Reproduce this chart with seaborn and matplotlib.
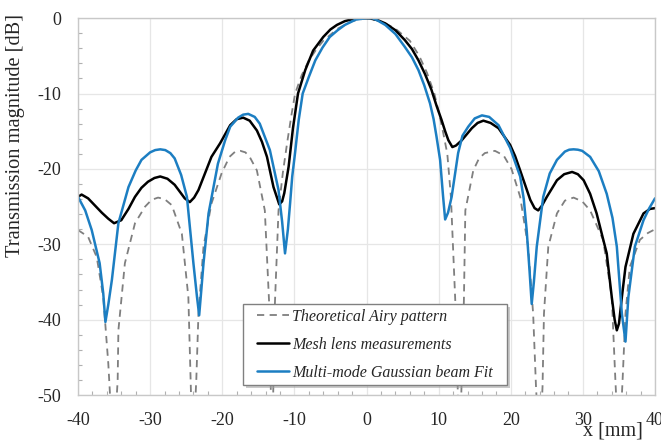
import matplotlib
matplotlib.use("Agg")
import matplotlib.pyplot as plt
from matplotlib.patches import Rectangle
from matplotlib.transforms import offset_copy
from matplotlib.ticker import MultipleLocator
import seaborn as sns

# Theoretical Airy pattern (dashed); nulls drop below -50
airy_x = [-40, -38.6, -37.4, -36.5, -35.8, -35.1, -34.5, -34.4, -33.5, -32.1, -30.7,
          -29.8, -28.9, -28.0, -27.0, -25.6, -24.7, -24.1, -23.6, -23.3, -22.6, -21.5,
          -20.1, -19.0, -18.2, -17.5, -16.8, -16.2, -15.2, -14.1, -13.5, -13.1, -12.7,
          -12.2, -11.6, -11.0, -10.4, -9.9, -9.0, -8.0, -7.0, -6.0, -4.0, -2.0, 0,
          2.0, 4.0, 6.0, 7.3, 8.4, 9.4, 10.1, 10.65, 11.2, 11.7, 12.3, 12.9, 13.5, 13.7,
          14.8, 15.6, 16.4, 17.8, 19.0, 20.1, 21.3, 22.4, 23.1, 23.5, 24.0, 24.4, 24.6,
          25.2, 26.4, 27.5, 28.7, 29.9, 31.0, 32.8, 34.0, 34.5, 35.0, 35.5, 35.9, 36.5,
          37.9, 39.0, 40]
airy_db = [-28.1, -29.0, -31.7, -37.0, -45.8, -58, -48.0, -41.4, -32.5, -27.2, -25.0,
           -24.1, -23.8, -24.0, -24.8, -28.6, -37.0, -58, -48.0, -39.2, -30.3, -24.6,
           -20.6, -18.4, -17.7, -17.6, -17.8, -18.4, -20.2, -25.5, -37.8, -58, -37.8,
           -25.5, -20.5, -16.5, -12.8, -10.0, -7.6, -5.6, -4.2, -3.0, -1.4, -0.4, 0,
           -0.4, -1.4, -3.0, -5.0, -7.3, -10.0, -12.8, -15.3, -18.0, -23.7, -37.4, -58, -37.4, -25.5,
           -20.2, -18.6, -17.9, -17.6, -18.2, -20.0, -23.7, -30.3, -39.2, -49.0, -58, -48.9, -39.2,
           -30.3, -25.9, -24.2, -23.8, -24.3, -25.5, -29.4, -37.0, -48.0, -58, -48.0, -39.2, -33.0,
           -29.4, -28.5, -28.0]

# Mesh lens measurements (black)
mesh_x = [-40, -39.5, -38.6, -37.7, -36.7, -35.8, -35.0, -34.0, -33.0, -32.1, -31.2,
          -30.3, -29.4, -28.6, -27.6, -26.6, -25.2, -24.5, -23.9, -23.3, -22.4, -21.5,
          -20.3, -19.6, -18.9, -18.0, -17.1, -16.2, -15.2, -14.5, -13.8, -12.9, -12.1,
          -11.7, -11.4, -10.8, -10.2, -9.5, -8.5, -7.4, -6.0, -5.0, -4.1, -3.0, -1.8,
          -0.6, 0.5, 1.5, 2.6, 4.0, 5.3, 6.3, 7.2, 8.1, 9.0, 9.7, 10.4, 10.9, 11.35,
          11.9, 12.4, 13.2, 14.6, 15.4, 16.2, 17.2, 18.3, 19.9, 20.6, 21.3, 22.7, 23.3,
          23.8, 24.3, 25.0, 26.4, 27.4, 28.5, 29.3, 30.1, 31.0, 31.9, 33.3, 34.0, 34.4,
          34.7, 35.0, 35.4, 35.9, 37.0, 38.4, 39.3, 40]
mesh_db = [-23.7, -23.4, -23.9, -24.8, -25.8, -26.6, -27.2, -26.8, -25.3, -23.7, -22.5,
           -21.7, -21.2, -21.0, -21.3, -22.1, -23.9, -24.4, -23.8, -22.8, -20.6, -18.4,
           -16.6, -15.4, -14.2, -13.4, -13.2, -13.6, -14.9, -16.4, -18.4, -22.4, -24.7,
           -24.3, -23.2, -19.7, -14.6, -10.0, -6.9, -4.3, -2.5, -1.5, -0.9, -0.4, -0.1,
           0, -0.05, -0.25, -0.7, -1.6, -2.9, -4.1, -5.6, -7.4, -9.5, -11.6, -13.5, -15.0, -16.2,
           -17.1, -16.9, -16.2, -14.6, -13.9, -13.6, -13.9, -14.6, -16.8, -18.3, -20.2, -24.1, -25.2,
           -25.5, -24.9, -23.7, -21.5, -20.7, -20.4, -20.7, -21.5, -23.3, -25.9, -31.2, -37.0, -40.0,
           -41.4, -40.5, -37.0, -33.0, -28.6, -25.9, -25.3, -25.2]

# Multi-mode Gaussian beam fit (blue)
fit_x = [-40, -39.0, -38.1, -37.0, -36.5, -36.2, -35.8, -35.3, -34.4, -33.0, -32.0,
         -31.2, -30.0, -29.3, -28.6, -27.9, -27.2, -26.6, -25.7, -24.9, -24.0, -23.5,
         -23.2, -22.9, -22.6, -21.9, -20.6, -19.6, -18.9, -17.8, -17.1, -16.4, -15.5,
         -14.8, -13.4, -12.2, -11.7, -11.3, -10.9, -10.6, -10.3, -9.9, -9.4, -8.85,
         -8.0, -7.1, -6.1, -5.1, -4.0, -3.0, -1.5, 0, 0.8, 1.6, 2.6, 4.0, 5.3, 6.3,
         7.2, 8.0, 8.8, 9.3, 9.7, 10.2, 10.6, 10.9, 11.3, 11.8, 12.7, 13.3, 14.1, 15.0,
         16.0, 17.0, 18.3, 19.9, 21.3, 21.8, 22.2, 22.6, 22.9, 23.2, 23.6, 24.5, 25.4,
         26.4, 27.5, 28.1, 28.7, 29.3, 29.9, 31.0, 32.2, 33.3, 34.1, 34.7, 35.4, 35.9,
         36.3, 37.2, 38.4, 39.2, 40]
fit_db = [-23.7, -25.5, -28.1, -32.5, -36.5, -40.3, -38.0, -34.7, -27.2, -22.4, -20.2,
          -18.8, -17.8, -17.5, -17.4, -17.5, -17.9, -18.6, -20.8, -23.7, -32.5, -37.0,
          -39.4, -36.0, -32.5, -25.9, -19.3, -16.2, -14.4, -13.2, -12.8, -12.7, -13.1,
          -14.0, -17.5, -22.8, -27.0, -31.2, -28.0, -24.6, -21.0, -17.8, -13.5, -10.0,
          -7.8, -5.6, -3.9, -2.5, -1.6, -0.9, -0.2, 0, 0, -0.35, -0.9, -2.1, -3.8, -5.2,
          -6.9, -8.9, -11.3, -13.4, -15.7, -18.8, -23.5, -26.7, -25.8, -23.7, -17.9, -15.6, -14.4, -13.3,
          -12.9, -13.1, -14.2, -17.2, -21.0, -24.0, -28.1, -33.5, -37.9, -35.0, -30.3, -23.7, -20.6,
          -18.8, -17.7, -17.45, -17.4, -17.45, -17.6, -18.4, -20.3, -23.3, -26.5, -30.3, -39.2, -42.9,
          -37.0, -30.3, -26.8, -25.2, -23.9]

labels = ["Theoretical Airy pattern", "Mesh lens measurements",
          "Multi-mode Gaussian beam Fit"]

sns.set_theme(style="whitegrid")
plt.rcParams["font.family"] = ["Liberation Serif", "DejaVu Serif"]
plt.rcParams["axes.unicode_minus"] = False

fig = plt.figure(figsize=(6.61, 4.42), dpi=100)
ax = fig.add_axes([0.118, 0.106, 0.873, 0.853])

sns.lineplot(x=airy_x, y=airy_db, ax=ax, color="#7f7f7f", linewidth=1.3,
             linestyle=(0, (4, 3)), estimator=None, sort=False, label=labels[0])
sns.lineplot(x=mesh_x, y=mesh_db, ax=ax, color="black", linewidth=1.8,
             estimator=None, sort=False, label=labels[1])
sns.lineplot(x=fit_x, y=fit_db, ax=ax, color="#1c7ec2", linewidth=1.8,
             estimator=None, sort=False, label=labels[2])

ax.set_xlim(-40, 40)
ax.set_ylim(-50, 0)
ax.xaxis.set_major_locator(MultipleLocator(10))
ax.xaxis.set_minor_locator(MultipleLocator(2))
ax.yaxis.set_major_locator(MultipleLocator(10))
ax.yaxis.set_minor_locator(MultipleLocator(2))
ax.grid(True, which="major", color="#e6e6e6", linewidth=0.9)
ax.grid(False, which="minor")
ax.tick_params(axis="x", which="major", length=0, labelsize=13, pad=12)
ax.tick_params(axis="y", which="major", length=0, labelsize=13, pad=12)
ax.tick_params(which="minor", direction="in", length=3, color="#b0b0b0", width=0.8,
               bottom=True, left=True)
for side in ax.spines.values():
    side.set_color("#c8c8c8")
    side.set_linewidth(1.0)

ax.set_xlabel("")
ax.set_ylabel("Transmission magnitude [dB]", fontsize=14.7)
ax.yaxis.set_label_coords(-0.092, 0.69)
fig.text(0.927, 0.0475, "x [mm]", fontsize=14.5, ha="center", va="top")

# legend box with a soft shadow, then the entries centred inside it
box = (0.286, 0.027, 0.4575, 0.2157)
shadow_tr = offset_copy(ax.transAxes, fig=fig, x=3, y=-3, units="dots")
ax.add_patch(Rectangle(box[:2], box[2], box[3], transform=shadow_tr,
                       facecolor="#a0a0a0", alpha=0.55, edgecolor="none", zorder=4))
ax.add_patch(Rectangle(box[:2], box[2], box[3], transform=ax.transAxes,
                       facecolor="white", edgecolor="#808080", linewidth=1.0, zorder=4.5))
leg = ax.legend(loc="center", bbox_to_anchor=(0.5147, 0.134), borderaxespad=0,
                frameon=False, handlelength=2.0, handletextpad=0.15, labelspacing=0.75,
                prop={"style": "italic", "size": 11.5})
leg.set_zorder(5)

fig.savefig("out.png", dpi=100)
